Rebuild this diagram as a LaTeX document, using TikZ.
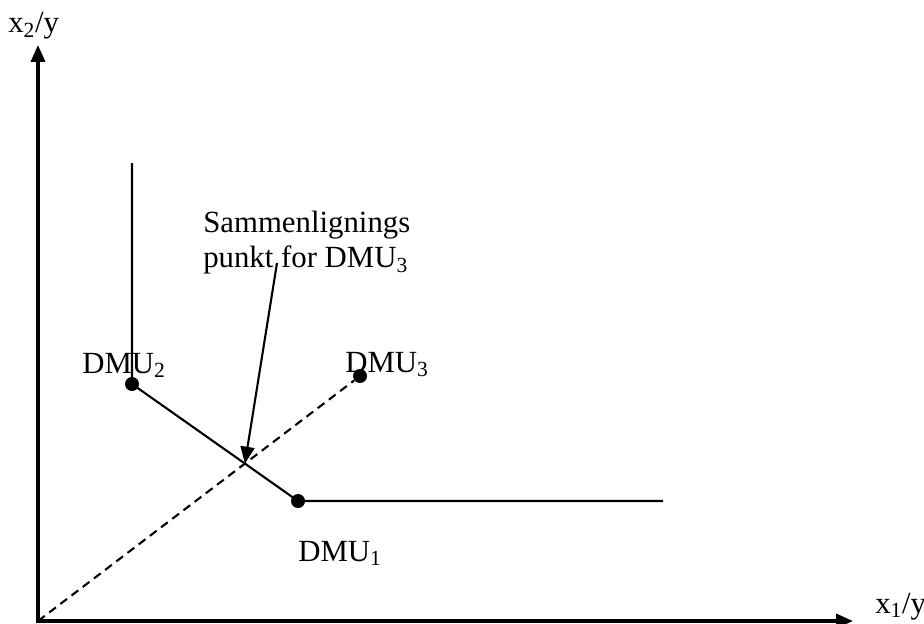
\documentclass[tikz,border=0pt]{standalone}
\usepackage{fontspec}
\setmainfont{Liberation Serif}
\usetikzlibrary{arrows.meta}
\tikzset{
  axis/.style={line width=2.2pt,line join=miter,
    {Triangle[length=12pt,width=10pt]}-{Triangle[length=12pt,width=10pt]}},
  front/.style={line width=1.5pt},
  ray/.style={line width=1.5pt,dash pattern=on 6pt off 4pt},
  dmu/.style={circle,fill,inner sep=0pt,minimum size=0.35cm},
  lbl/.style={inner sep=0pt,font=\fontsize{21.9}{25}\selectfont},
}
\begin{document}
\begin{tikzpicture}
\useasboundingbox (0,0) rectangle (23.1,15.575);
% axes
\coordinate (o) at (0.95,0.05);
\coordinate (ytip) at (0.95,14.45);
\coordinate (xtip) at (21.325,0.05);
\draw[axis] (ytip) -- (o) -- (xtip);
\node[lbl,anchor=base west] (ylab) at (0.2,14.75) {x\textsubscript{2}/y};
\node[lbl,anchor=base west] (xlab) at (21.875,0.25) {x\textsubscript{1}/y};
% units
\node[dmu] (d1) at (7.45,3.05) {};
\node[dmu] (d2) at (3.3,5.975) {};
\node[dmu] (d3) at (9.0,6.175) {};
\coordinate (top) at (3.3,11.5);
\coordinate (hend) at (16.575,3.05);
\draw[front] (top) -- (d2.center) -- (d1.center) -- (hend);
\draw[ray] (o) -- (d3);
\node[lbl,anchor=base west] (l1) at (7.45,1.55) {DMU\textsubscript{1}};
\node[lbl,anchor=base west] (l2) at (2.05,6.25) {DMU\textsubscript{2}};
\node[lbl,anchor=base west] (l3) at (8.625,6.275) {DMU\textsubscript{3}};
% comparison point
\node[lbl,anchor=north west,align=left] (cmp) at (5.075,10.3)
  {Sammenlignings\\punkt for DMU\textsubscript{3}};
\coordinate (start) at (6.925,9.0);
\coordinate (ref) at (intersection of d2.center--d1.center and o--d3.center);
\draw[front,-{Triangle[length=12pt,width=10pt]}] (start) -- (ref);
\end{tikzpicture}
\end{document}
